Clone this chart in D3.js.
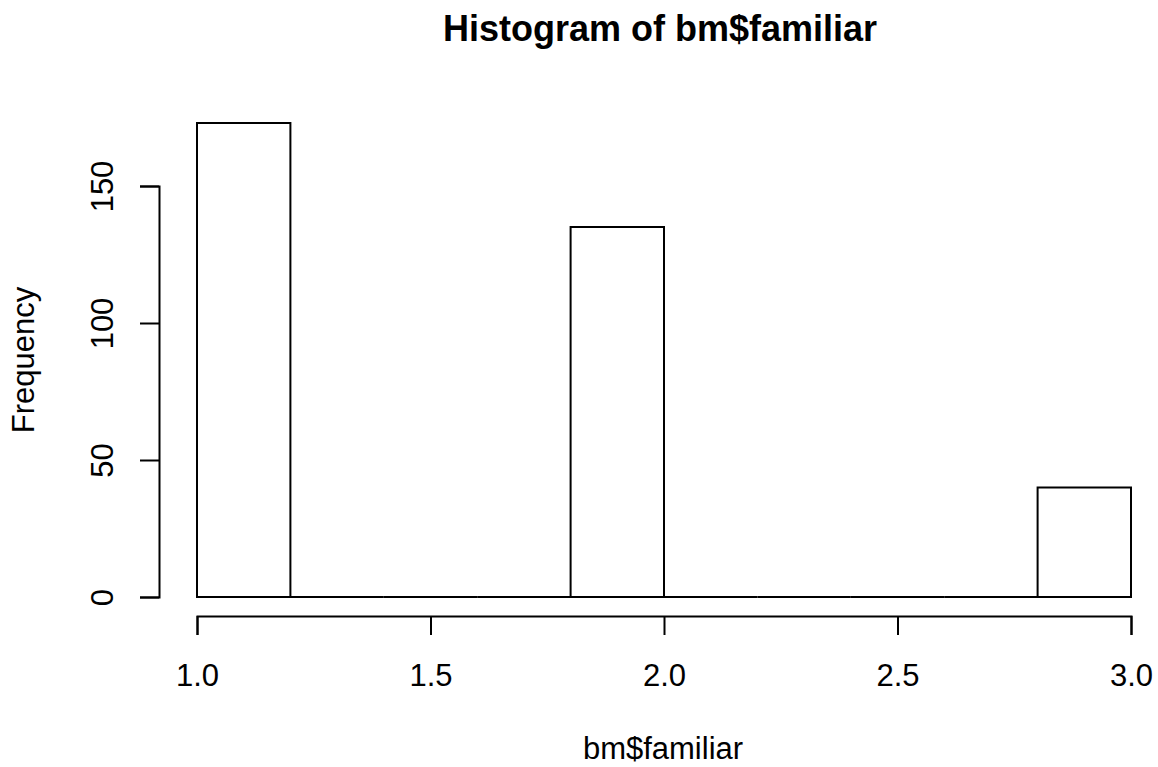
<!DOCTYPE html>
<html>
<head>
<meta charset="utf-8">
<script src="https://cdn.jsdelivr.net/npm/d3@7"></script>
<style>
  body { margin: 0; background: #fff; }
  text { font-family: "Liberation Sans", Arial, sans-serif; fill: #000; }
</style>
</head>
<body>
<div id="chart-area"></div>
<script>
// histogram data
var breaks = [1.0, 1.2, 1.4, 1.6, 1.8, 2.0, 2.2, 2.4, 2.6, 2.8, 3.0];
var counts = [173, 0, 0, 0, 135, 0, 0, 0, 0, 40];
var xTicks = [1.0, 1.5, 2.0, 2.5, 3.0];
var yTicks = [0, 50, 100, 150];

var width = 1158, height = 767;

var svg = d3.select("#chart-area")
    .append("svg")
    .attr("width", width)
    .attr("height", height);

// Scales
var x = d3.scaleLinear().domain([1, 3]).range([197, 1131]);
var y = d3.scaleLinear().domain([0, 150]).range([597, 186]);

var bins = counts.map(function(c, i) {
    return { x0: breaks[i], x1: breaks[i + 1], count: c };
});

// Bars (paths, so empty bins still show as a line on the baseline)
svg.selectAll("path.bar")
    .data(bins)
    .enter()
    .append("path")
    .attr("class", "bar")
    .attr("d", function(d) {
        var p = d3.path();
        p.moveTo(x(d.x0), y(0));
        p.lineTo(x(d.x0), y(d.count));
        p.lineTo(x(d.x1), y(d.count));
        p.lineTo(x(d.x1), y(0));
        p.closePath();
        return p.toString();
    })
    .attr("fill", "none")
    .attr("stroke", "#000")
    .attr("stroke-width", 2);

// X-axis
var xAxis = svg.append("g")
    .attr("transform", "translate(0,616)")
    .call(d3.axisBottom(x)
        .tickValues(xTicks)
        .tickFormat(d3.format(".1f"))
        .tickSizeOuter(0)
        .tickSize(19));
xAxis.selectAll("path, line").attr("stroke", "#000").attr("stroke-width", 2);
xAxis.selectAll("text")
    .attr("y", 70)
    .attr("dy", null)
    .attr("font-size", "31px")
    .style("font-family", "'Liberation Sans', Arial, sans-serif")
    .attr("fill", "#000");

// Y-axis
var yAxis = svg.append("g")
    .attr("transform", "translate(159,0)")
    .call(d3.axisLeft(y)
        .tickValues(yTicks)
        .tickSizeOuter(0)
        .tickSize(19));
yAxis.selectAll("path, line").attr("stroke", "#000").attr("stroke-width", 2);
yAxis.selectAll("text")
    .attr("x", null)
    .attr("dy", null)
    .attr("transform", "translate(-46,0) rotate(-90)")
    .attr("text-anchor", "middle")
    .attr("font-size", "31px")
    .style("font-family", "'Liberation Sans', Arial, sans-serif")
    .attr("fill", "#000");

// Labels
svg.append("text")
    .attr("x", 660)
    .attr("y", 41)
    .attr("text-anchor", "middle")
    .attr("font-size", "36px")
    .attr("font-weight", "bold")
    .text("Histogram of bm$familiar");

svg.append("text")
    .attr("x", 663)
    .attr("y", 759)
    .attr("text-anchor", "middle")
    .attr("font-size", "31px")
    .text("bm$familiar");

svg.append("text")
    .attr("transform", "translate(34,360) rotate(-90)")
    .attr("text-anchor", "middle")
    .attr("font-size", "31px")
    .text("Frequency");
</script>
</body>
</html>
